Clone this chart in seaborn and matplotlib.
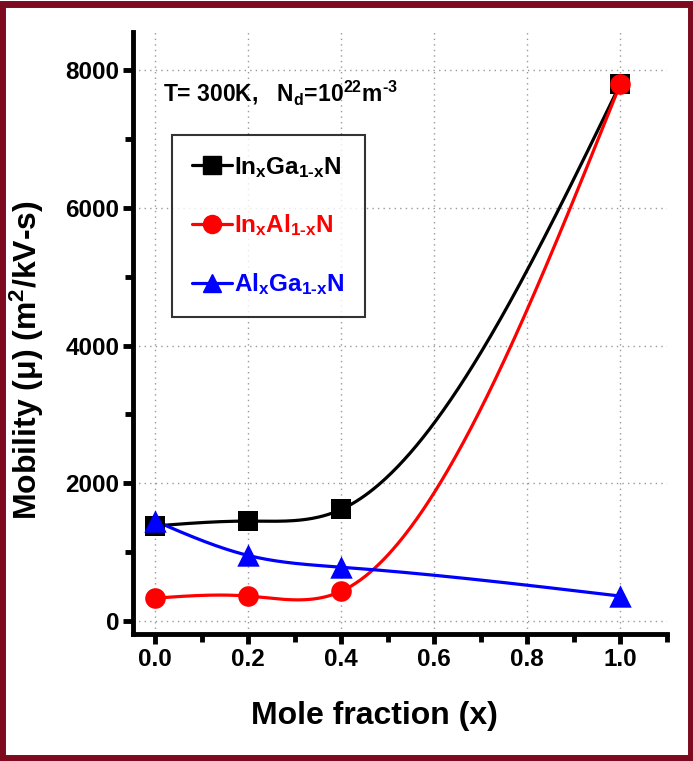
import numpy as np
import pandas as pd
import matplotlib
matplotlib.use("Agg")
import matplotlib.pyplot as plt
from matplotlib.lines import Line2D
from matplotlib.patches import Rectangle
import seaborn as sns

# ---- data ----
x_frac = [0.0, 0.2, 0.4, 1.0]
ingan = [1380, 1450, 1620, 7800]
inaln = [330, 360, 430, 7800]
algan = [1450, 950, 780, 360]
series_names = ["In$_\\mathregular{x}$Ga$_\\text{1-x}$N",
                "In$_\\mathregular{x}$Al$_\\text{1-x}$N",
                "Al$_\\mathregular{x}$Ga$_\\text{1-x}$N"]
series_colors = ["#000000", "#ff0000", "#0000ff"]
series_markers = ["s", "o", "^"]
marker_areas = [190, 220, 260]
x_ticks = [0.0, 0.2, 0.4, 0.6, 0.8, 1.0]
y_ticks = [0, 2000, 4000, 6000, 8000]


def natural_spline(x, y, n=300):
    x = np.asarray(x, float); y = np.asarray(y, float)
    k = len(x); h = np.diff(x)
    A = np.zeros((k, k)); b = np.zeros(k)
    A[0, 0] = 1; A[-1, -1] = 1
    for i in range(1, k - 1):
        A[i, i - 1] = h[i - 1]; A[i, i] = 2 * (h[i - 1] + h[i]); A[i, i + 1] = h[i]
        b[i] = 3 * ((y[i + 1] - y[i]) / h[i] - (y[i] - y[i - 1]) / h[i - 1])
    c = np.linalg.solve(A, b)
    xs = np.linspace(x[0], x[-1], n); ys = np.empty_like(xs)
    for j, xv in enumerate(xs):
        i = min(np.searchsorted(x, xv, side="right") - 1, k - 2)
        dx = xv - x[i]
        bb = (y[i + 1] - y[i]) / h[i] - h[i] * (2 * c[i] + c[i + 1]) / 3
        d = (c[i + 1] - c[i]) / (3 * h[i])
        ys[j] = y[i] + bb * dx + c[i] * dx ** 2 + d * dx ** 3
    return xs, ys


sns.set_theme(style="white")
plt.rcParams['font.family'] = ['Liberation Sans', 'DejaVu Sans']
plt.rcParams['mathtext.default'] = 'regular'
plt.rcParams['mathtext.fontset'] = 'custom'
plt.rcParams['mathtext.rm'] = 'Liberation Sans:bold'
plt.rcParams['mathtext.bf'] = 'Liberation Sans:bold'
plt.rcParams['mathtext.it'] = 'Liberation Sans:bold'
for k in ['text.color', 'axes.labelcolor', 'xtick.color', 'ytick.color']:
    plt.rcParams[k] = 'black'

fig = plt.figure(figsize=(6.93, 7.61), dpi=100)
ax = fig.add_axes([0.192, 0.167, 0.770, 0.791])

all_series = [ingan, inaln, algan]
curves = []
pts = []
for name, vals in zip(series_names, all_series):
    xs, ys = natural_spline(x_frac, vals)
    curves.append(pd.DataFrame({"x": xs, "y": ys, "s": name}))
    pts.append(pd.DataFrame({"x": x_frac, "y": vals, "s": name}))
curve_df = pd.concat(curves, ignore_index=True)
pt_df = pd.concat(pts, ignore_index=True)
pal = dict(zip(series_names, series_colors))

ax.grid(True, color="#999999", linestyle=(0, (1, 3)), linewidth=1.0)
ax.set_axisbelow(True)

sns.lineplot(data=curve_df, x="x", y="y", hue="s", palette=pal, linewidth=2.3,
             legend=False, ax=ax, sort=False, estimator=None)
for name, m, a in zip(series_names, series_markers, marker_areas):
    sub = pt_df[pt_df.s == name]
    sns.scatterplot(data=sub, x="x", y="y", color=pal[name], marker=m, s=a,
                    edgecolor=pal[name], linewidth=0, legend=False, ax=ax, zorder=5)

ax.set_xlim(-0.048, 1.10)
ax.set_ylim(-190, 8560)
ax.set_xticks(x_ticks)
ax.set_xticklabels([f"{v:.1f}" for v in x_ticks])
ax.set_yticks(y_ticks)
ax.set_yticklabels([str(v) for v in y_ticks])
ax.set_xticks([0.1, 0.3, 0.5, 0.7, 0.9, 1.1], minor=True)
ax.set_yticks([1000, 3000, 5000, 7000], minor=True)
ax.grid(False, which="minor")

for s in ["top", "right"]:
    ax.spines[s].set_visible(False)
for s in ["left", "bottom"]:
    ax.spines[s].set_linewidth(3.5)
    ax.spines[s].set_color("black")
ax.tick_params(which="major", direction="out", length=7, width=3.5, color="black",
               labelsize=17.5, pad=3, left=True, bottom=True)
ax.tick_params(which="minor", direction="out", length=6, width=3.5, color="black",
               left=True, bottom=True)
for lab in ax.get_xticklabels() + ax.get_yticklabels():
    lab.set_fontweight("bold")

ax.set_xlabel("Mole fraction (x)", fontsize=23, fontweight="bold")
ax.xaxis.set_label_coords(0.453, -0.112)
ax.set_ylabel("Mobility (\u03bc) (m$^2$/kV-s)", fontsize=23, fontweight="bold")
ax.yaxis.set_label_coords(-0.163, 0.455)

ax.text(0.056, 0.900, "T= 300K,   N$_d$=10$^{22}$m$^{\\text{-3}}$", transform=ax.transAxes,
        fontsize=16.5, fontweight="bold", ha="left", va="center")

handles = [Line2D([0], [0], color=c, marker=m, markersize=13, linewidth=2.3)
           for c, m in zip(series_colors, series_markers)]
leg = ax.legend(handles, series_names, loc="upper left", bbox_to_anchor=(0.073, 0.829),
                frameon=True, fancybox=False, edgecolor="black",
                handlelength=1.65, handletextpad=0.1, labelspacing=1.35,
                borderpad=0.82, borderaxespad=0, prop={"weight": "bold", "size": 17.5})
leg.get_frame().set_linewidth(1.5)
for t, c in zip(leg.get_texts(), series_colors):
    t.set_color(c)

fig.patches.append(Rectangle((0.0035, 0.004), 0.993, 0.991, transform=fig.transFigure,
                             fill=False, edgecolor="#7d0a1e", linewidth=5))

fig.savefig("out.png", dpi=100)
